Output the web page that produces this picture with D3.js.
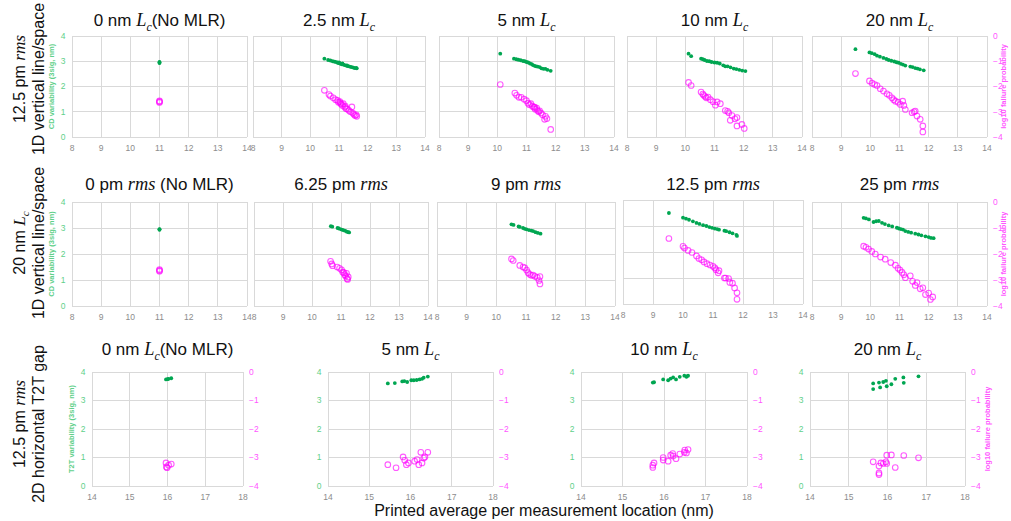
<!DOCTYPE html>
<html>
<head>
<meta charset="utf-8">
<script src="https://cdn.jsdelivr.net/npm/d3@7"></script>
<style>
  html, body { margin: 0; padding: 0; background: #fff; }
  svg { display: block; }
</style>
</head>
<body>
<svg id="chart" width="1011" height="521"></svg>
<script>
// ---- Data: [printed average (nm), variability (3sig, nm)] and [printed average (nm), log10 failure probability]
const r1p1Var = [[11.00, 2.97], [11.00, 2.93], [11.00, 2.95]];
const r1p1Fail = [[11.00, -2.57], [11.00, -2.63], [11.00, -2.60]];

const r1p2Var = [[10.49, 3.10], [10.62, 3.05], [10.70, 3.03], [10.78, 3.00], [10.85, 2.98], [10.92, 2.96], [10.97, 2.93], [11.02, 2.92], [11.06, 2.90], [11.10, 2.88], [11.15, 2.87], [11.20, 2.85], [11.25, 2.83], [11.30, 2.81], [11.35, 2.80], [11.40, 2.78], [11.45, 2.77], [11.50, 2.75], [11.55, 2.73], [11.60, 2.74], [11.62, 2.72], [11.00, 2.95], [11.12, 2.91], [11.28, 2.84]];
const r1p2Fail = [[10.49, -2.15], [10.65, -2.32], [10.70, -2.38], [10.80, -2.45], [10.88, -2.52], [10.95, -2.55], [10.98, -2.62], [11.03, -2.60], [11.08, -2.70], [11.12, -2.75], [11.15, -2.68], [11.20, -2.82], [11.25, -2.88], [11.30, -2.90], [11.35, -2.95], [11.40, -3.00], [11.45, -2.81], [11.48, -3.05], [11.52, -3.10], [11.56, -3.15], [11.60, -3.12], [11.62, -3.18], [11.05, -2.66], [11.22, -2.78]];

const r1p3Var = [[10.10, 3.30], [10.57, 3.10], [10.65, 3.08], [10.72, 3.06], [10.80, 3.04], [10.88, 3.01], [10.94, 3.00], [11.00, 2.97], [11.06, 2.95], [11.12, 2.91], [11.18, 2.89], [11.22, 2.85], [11.28, 2.82], [11.33, 2.80], [11.38, 2.79], [11.45, 2.77], [11.51, 2.72], [11.58, 2.70], [11.65, 2.70], [11.72, 2.66], [11.83, 2.62]];
const r1p3Fail = [[10.10, -1.92], [10.60, -2.26], [10.66, -2.35], [10.74, -2.43], [10.82, -2.43], [10.92, -2.50], [11.00, -2.56], [11.05, -2.66], [11.10, -2.72], [11.15, -2.68], [11.20, -2.78], [11.25, -2.82], [11.28, -2.82], [11.30, -2.90], [11.35, -2.86], [11.38, -2.95], [11.42, -3.00], [11.45, -2.96], [11.50, -3.05], [11.55, -3.12], [11.62, -3.30], [11.65, -3.18], [11.70, -3.27], [11.83, -3.70]];

const r1p4Var = [[10.11, 3.30], [10.20, 3.20], [10.54, 3.10], [10.60, 3.08], [10.66, 3.05], [10.74, 3.01], [10.82, 3.00], [10.90, 2.97], [11.00, 2.95], [11.09, 2.94], [11.18, 2.91], [11.30, 2.84], [11.37, 2.80], [11.45, 2.80], [11.55, 2.76], [11.66, 2.71], [11.75, 2.69], [11.85, 2.66], [11.95, 2.63], [12.06, 2.61]];
const r1p4Fail = [[10.11, -1.84], [10.20, -1.96], [10.54, -2.22], [10.60, -2.30], [10.63, -2.35], [10.68, -2.40], [10.72, -2.45], [10.78, -2.42], [10.86, -2.52], [10.95, -2.60], [11.03, -2.74], [11.09, -2.61], [11.20, -2.68], [11.37, -2.95], [11.45, -2.98], [11.49, -3.04], [11.54, -3.34], [11.60, -3.15], [11.70, -3.28], [11.77, -3.23], [11.77, -3.56], [11.94, -3.50], [12.02, -3.66]];

const r1p5Var = [[9.49, 3.48], [9.97, 3.35], [10.05, 3.32], [10.15, 3.28], [10.23, 3.22], [10.33, 3.18], [10.45, 3.13], [10.55, 3.09], [10.63, 3.05], [10.72, 3.02], [10.82, 2.99], [10.90, 2.96], [10.97, 2.94], [11.05, 2.90], [11.12, 2.87], [11.20, 2.83], [11.37, 2.79], [11.45, 2.77], [11.54, 2.73], [11.62, 2.71], [11.70, 2.68], [11.83, 2.64]];
const r1p5Fail = [[9.49, -1.49], [9.97, -1.78], [10.06, -1.87], [10.15, -1.92], [10.23, -1.96], [10.34, -2.09], [10.45, -2.18], [10.57, -2.29], [10.65, -2.35], [10.74, -2.45], [10.80, -2.52], [10.86, -2.58], [10.95, -2.62], [11.03, -2.71], [11.11, -2.58], [11.15, -2.75], [11.20, -2.91], [11.43, -3.04], [11.50, -3.00], [11.54, -2.97], [11.60, -3.17], [11.71, -3.30], [11.80, -3.56], [11.80, -3.80]];

const r2p1Var = [[11.00, 2.96], [11.00, 2.93], [11.00, 2.95]];
const r2p1Fail = [[11.00, -2.60], [11.00, -2.66], [11.00, -2.63]];

const r2p2Var = [[10.65, 3.07], [10.70, 3.05], [10.88, 3.00], [10.93, 2.98], [11.00, 2.95], [11.05, 2.93], [11.10, 2.91], [11.15, 2.89], [11.20, 2.86], [11.25, 2.84], [11.28, 2.83]];
const r2p2Fail = [[10.64, -2.28], [10.68, -2.38], [10.71, -2.45], [10.87, -2.50], [10.95, -2.55], [11.02, -2.61], [11.06, -2.70], [11.10, -2.72], [11.13, -2.80], [11.16, -2.85], [11.19, -2.74], [11.21, -2.95], [11.25, -2.88], [11.23, -2.98]];

const r2p3Var = [[10.51, 3.14], [10.58, 3.12], [10.75, 3.06], [10.79, 3.04], [10.90, 3.00], [10.96, 2.97], [11.02, 2.95], [11.10, 2.92], [11.18, 2.90], [11.24, 2.88], [11.32, 2.84], [11.40, 2.81], [11.49, 2.78]];
const r2p3Fail = [[10.51, -2.19], [10.57, -2.25], [10.79, -2.44], [10.90, -2.50], [10.96, -2.53], [11.02, -2.62], [11.07, -2.72], [11.12, -2.78], [11.18, -2.82], [11.24, -2.81], [11.30, -2.86], [11.38, -2.90], [11.47, -2.87], [11.44, -3.02], [11.47, -3.15]];

const r2p4Var = [[9.53, 3.50], [10.00, 3.32], [10.10, 3.28], [10.20, 3.24], [10.33, 3.18], [10.45, 3.12], [10.55, 3.08], [10.67, 3.03], [10.78, 3.00], [10.88, 2.96], [10.97, 2.93], [11.06, 2.90], [11.14, 2.88], [11.20, 2.86], [11.38, 2.82], [11.44, 2.80], [11.55, 2.76], [11.65, 2.72], [11.78, 2.66], [11.80, 2.62]];
const r2p4Fail = [[9.53, -1.48], [10.00, -1.78], [10.05, -1.85], [10.17, -1.94], [10.30, -2.02], [10.45, -2.15], [10.53, -2.25], [10.62, -2.30], [10.70, -2.38], [10.80, -2.45], [10.90, -2.50], [11.00, -2.55], [11.06, -2.61], [11.10, -2.68], [11.17, -2.80], [11.20, -2.72], [11.38, -3.00], [11.42, -3.00], [11.52, -3.02], [11.56, -3.17], [11.65, -3.20], [11.72, -3.38], [11.80, -3.57], [11.80, -3.82]];

const r2p5Var = [[9.77, 3.39], [9.85, 3.37], [9.95, 3.33], [10.11, 3.23], [10.20, 3.26], [10.29, 3.27], [10.40, 3.20], [10.50, 3.15], [10.63, 3.10], [10.75, 3.06], [10.91, 3.01], [10.98, 2.98], [11.05, 2.96], [11.12, 2.94], [11.20, 2.88], [11.30, 2.85], [11.40, 2.82], [11.54, 2.78], [11.65, 2.75], [11.75, 2.72], [11.89, 2.68], [12.00, 2.65], [12.08, 2.62], [12.17, 2.61]];
const r2p5Fail = [[9.77, -1.70], [9.85, -1.74], [9.94, -1.81], [10.05, -1.90], [10.17, -2.00], [10.35, -2.12], [10.51, -2.20], [10.70, -2.33], [10.86, -2.43], [10.95, -2.55], [11.02, -2.62], [11.09, -2.71], [11.15, -2.80], [11.20, -2.91], [11.37, -2.84], [11.45, -3.05], [11.54, -3.21], [11.60, -3.10], [11.71, -3.34], [11.80, -3.30], [11.89, -3.56], [12.00, -3.50], [12.06, -3.75], [12.14, -3.65]];

const r3p1Var = [[15.96, 3.74], [16.00, 3.75], [16.03, 3.76], [16.10, 3.78]];
const r3p1Fail = [[15.96, -3.19], [15.97, -3.33], [15.99, -3.36], [16.03, -3.27], [16.10, -3.23]];

const r3p2Var = [[15.45, 3.60], [15.62, 3.61], [15.80, 3.67], [15.85, 3.68], [15.92, 3.65], [16.02, 3.71], [16.08, 3.71], [16.15, 3.72], [16.22, 3.74], [16.28, 3.76], [16.32, 3.80], [16.42, 3.84]];
const r3p2Fail = [[15.45, -3.25], [15.65, -3.36], [15.82, -2.98], [15.86, -3.10], [15.90, -3.25], [15.95, -3.19], [16.10, -3.13], [16.16, -3.07], [16.20, -3.25], [16.25, -2.82], [16.28, -3.19], [16.32, -3.02], [16.35, -2.98], [16.42, -2.82]];

const r3p3Var = [[15.73, 3.63], [15.76, 3.64], [15.98, 3.74], [16.10, 3.71], [16.16, 3.77], [16.22, 3.81], [16.29, 3.74], [16.38, 3.83], [16.49, 3.87], [16.54, 3.83], [16.58, 3.87], [16.55, 3.85]];
const r3p3Fail = [[15.73, -3.35], [15.73, -3.27], [15.76, -3.19], [15.98, -3.00], [15.98, -3.09], [16.10, -3.13], [16.16, -2.92], [16.21, -2.86], [16.22, -2.95], [16.29, -3.04], [16.38, -2.88], [16.49, -2.82], [16.50, -2.74], [16.54, -2.84], [16.58, -2.72]];

const r3p4Var = [[15.63, 3.60], [15.63, 3.40], [15.78, 3.63], [15.81, 3.46], [15.89, 3.65], [15.96, 3.69], [15.98, 3.50], [16.10, 3.57], [16.20, 3.76], [16.41, 3.81], [16.42, 3.62], [16.80, 3.85]];
const r3p4Fail = [[15.63, -3.15], [15.78, -3.30], [15.78, -3.54], [15.78, -3.60], [15.83, -3.19], [15.89, -3.21], [15.96, -3.15], [15.98, -2.92], [15.98, -3.21], [16.10, -2.91], [16.20, -3.35], [16.42, -2.93], [16.80, -3.01]];

// ---- Tick values and labels
const xTicksLS = [8, 9, 10, 11, 12, 13, 14];
const xTicksT2T = [14, 15, 16, 17, 18];
const varTicks = [0, 1, 2, 3, 4];
const failTicks = [0, -1, -2, -3, -4];

// ---- Titles (segments: plain, italic serif symbol, subscript)
const titlesRow1 = [
  [["0 nm "], ["L", "i"], ["c", "s"], ["(No MLR)"]],
  [["2.5 nm "], ["L", "i"], ["c", "s"]],
  [["5 nm "], ["L", "i"], ["c", "s"]],
  [["10 nm "], ["L", "i"], ["c", "s"]],
  [["20 nm "], ["L", "i"], ["c", "s"]]
];
const titlesRow2 = [
  [["0 pm "], ["rms", "i"], [" (No MLR)"]],
  [["6.25 pm "], ["rms", "i"]],
  [["9 pm "], ["rms", "i"]],
  [["12.5 pm "], ["rms", "i"]],
  [["25 pm "], ["rms", "i"]]
];
const titlesRow3 = [
  [["0 nm "], ["L", "i"], ["c", "s"], ["(No MLR)"]],
  [["5 nm "], ["L", "i"], ["c", "s"]],
  [["10 nm "], ["L", "i"], ["c", "s"]],
  [["20 nm "], ["L", "i"], ["c", "s"]]
];
const rowLabels = [
  [[["12.5 pm "], ["rms", "i"]], [["1D vertical line/space"]]],
  [[["20 nm "], ["L", "i"], ["c", "s"]], [["1D vertical line/space"]]],
  [[["12.5 pm "], ["rms", "i"]], [["2D horizontal T2T gap"]]]
];
const xAxisTitle = "Printed average per measurement location (nm)";
const cdTitle = "CD variability (3sig, nm)";
const t2tTitle = "T2T variability (3sig, nm)";
const failTitle = "log10 failure probability";

// ---- Styling
const GREEN = "#00a651";
const GREEN_LABEL = "#5fd08a";
const MAGENTA = "#ff00ff";
const MAGENTA_LABEL = "#ff55ff";
const GRID = "#d9d9d9";
const TICK_TEXT = "#8c8c8c";
const SANS = "'Liberation Sans', Arial, sans-serif";
const SERIF = "'Liberation Serif', 'Times New Roman', serif";

// ---- Panel layout: plot rectangles and which axes each one shows
const panels = [
  // row 1
  { x0: 72, x1: 247, y0: 36, y1: 137, xd: [8, 14], xt: xTicksLS, v: r1p1Var, f: r1p1Fail, title: titlesRow1[0], left: true, leftTitle: cdTitle },
  { x0: 253, x1: 425, y0: 36, y1: 137, xd: [8, 14], xt: xTicksLS, v: r1p2Var, f: r1p2Fail, title: titlesRow1[1] },
  { x0: 439, x1: 614, y0: 36, y1: 137, xd: [8, 14], xt: xTicksLS, v: r1p3Var, f: r1p3Fail, title: titlesRow1[2] },
  { x0: 627, x1: 802, y0: 36, y1: 137, xd: [8, 14], xt: xTicksLS, v: r1p4Var, f: r1p4Fail, title: titlesRow1[3] },
  { x0: 812, x1: 987, y0: 36, y1: 137, xd: [8, 14], xt: xTicksLS, v: r1p5Var, f: r1p5Fail, title: titlesRow1[4], right: true, rightTitle: failTitle, rtx: 1006 },
  // row 2
  { x0: 72, x1: 247, y0: 202, y1: 306, xd: [8, 14], xt: xTicksLS, v: r2p1Var, f: r2p1Fail, title: titlesRow2[0], left: true, leftTitle: cdTitle },
  { x0: 254, x1: 428, y0: 202, y1: 306, xd: [8, 14], xt: xTicksLS, v: r2p2Var, f: r2p2Fail, title: titlesRow2[1] },
  { x0: 437, x1: 615, y0: 202, y1: 306, xd: [8, 14], xt: xTicksLS, v: r2p3Var, f: r2p3Fail, title: titlesRow2[2] },
  { x0: 623, x1: 803, y0: 200, y1: 304, xd: [8, 14], xt: xTicksLS, v: r2p4Var, f: r2p4Fail, title: titlesRow2[3] },
  { x0: 812, x1: 987, y0: 202, y1: 306, xd: [8, 14], xt: xTicksLS, v: r2p5Var, f: r2p5Fail, title: titlesRow2[4], right: true, rightTitle: failTitle, rtx: 1006 },
  // row 3
  { x0: 92, x1: 243, y0: 372, y1: 486, xd: [14, 18], xt: xTicksT2T, v: r3p1Var, f: r3p1Fail, title: titlesRow3[0], left: true, leftTitle: t2tTitle, right: true },
  { x0: 328, x1: 493, y0: 372, y1: 486, xd: [14, 18], xt: xTicksT2T, v: r3p2Var, f: r3p2Fail, title: titlesRow3[1], left: true, right: true },
  { x0: 581, x1: 747, y0: 372, y1: 486, xd: [14, 18], xt: xTicksT2T, v: r3p3Var, f: r3p3Fail, title: titlesRow3[2], left: true, right: true },
  { x0: 810, x1: 965, y0: 372, y1: 486, xd: [14, 18], xt: xTicksT2T, v: r3p4Var, f: r3p4Fail, title: titlesRow3[3], left: true, right: true, rightTitle: failTitle, rtx: 990 }
];
const titleY = [26, 190, 355];
const rowLabelPos = [{ cy: 79 }, { cy: 243 }, { cy: 424 }];

const svg = d3.select("#chart");

// Writes a mixed-style label (plain sans, italic serif symbols, subscripts) into a text node
function richText(sel, segs, size) {
  segs.forEach((s, i) => {
    const [t, kind] = s;
    const prevSub = i > 0 && segs[i - 1][1] === "s";
    const ts = sel.append("tspan").text(t);
    if (kind === "i") {
      ts.attr("font-family", SERIF).attr("font-style", "italic").attr("font-size", size * 1.08);
    } else if (kind === "s") {
      ts.attr("font-family", SERIF).attr("font-style", "italic").attr("font-size", size * 0.7).attr("dy", size * 0.28);
    } else {
      ts.attr("font-family", SANS).attr("font-size", size);
    }
    if (prevSub) ts.attr("dy", -size * 0.28);
  });
}

panels.forEach((p, idx) => {
  const x = d3.scaleLinear().domain(p.xd).range([p.x0, p.x1]);
  const yV = d3.scaleLinear().domain([0, 4]).range([p.y1, p.y0]);
  const yF = d3.scaleLinear().domain([-4, 0]).range([p.y1, p.y0]);
  const g = svg.append("g");

  // gridlines (outer ones form the frame)
  g.append("g").selectAll("line").data(p.xt).join("line")
    .attr("x1", d => x(d)).attr("x2", d => x(d))
    .attr("y1", p.y0).attr("y2", p.y1)
    .attr("stroke", GRID).attr("stroke-width", 1).attr("shape-rendering", "crispEdges");
  g.append("g").selectAll("line").data(varTicks).join("line")
    .attr("x1", p.x0).attr("x2", p.x1)
    .attr("y1", d => yV(d)).attr("y2", d => yV(d))
    .attr("stroke", GRID).attr("stroke-width", 1).attr("shape-rendering", "crispEdges");

  // x tick labels
  g.append("g").selectAll("text").data(p.xt).join("text")
    .attr("x", d => x(d)).attr("y", p.y1 + 11).attr("dy", "0.35em")
    .attr("text-anchor", "middle").attr("font-family", SANS).attr("font-size", 8.5)
    .attr("fill", TICK_TEXT).text(d => d);

  // left (variability) labels
  if (p.left) {
    g.append("g").selectAll("text").data(varTicks).join("text")
      .attr("x", p.x0 - 9).attr("y", d => yV(d)).attr("dy", "0.35em")
      .attr("text-anchor", "middle").attr("font-family", SANS).attr("font-size", 8.5)
      .attr("fill", GREEN_LABEL).text(d => d);
  }
  if (p.leftTitle) {
    const cy = (p.y0 + p.y1) / 2;
    const tx = p.x0 - 18;
    g.append("text").attr("transform", `translate(${tx},${cy}) rotate(-90)`)
      .attr("text-anchor", "middle").attr("font-family", SANS).attr("font-size", 7.5)
      .attr("font-weight", "bold").attr("fill", GREEN_LABEL).text(p.leftTitle);
  }
  // right (log10 failure probability) labels
  if (p.right) {
    g.append("g").selectAll("text").data(failTicks).join("text")
      .attr("x", p.x1 + 6).attr("y", d => yF(d)).attr("dy", "0.35em")
      .attr("text-anchor", "start").attr("font-family", SANS).attr("font-size", 8.5)
      .attr("fill", MAGENTA_LABEL).text(d => d === 0 ? "0" : "\u2212" + Math.abs(d));
  }
  if (p.rightTitle) {
    const cy = (p.y0 + p.y1) / 2;
    g.append("text").attr("transform", `translate(${p.rtx},${cy}) rotate(-90)`)
      .attr("text-anchor", "middle").attr("font-family", SANS).attr("font-size", 7.5)
      .attr("font-weight", "bold").attr("fill", MAGENTA_LABEL).text(p.rightTitle);
  }

  // failure probability: open magenta circles
  g.append("g").selectAll("circle").data(p.f).join("circle")
    .attr("cx", d => x(d[0])).attr("cy", d => yF(d[1])).attr("r", 2.8)
    .attr("fill", "none").attr("stroke", MAGENTA).attr("stroke-opacity", 0.65).attr("stroke-width", 1.1);
  // variability: filled green dots
  g.append("g").selectAll("circle").data(p.v).join("circle")
    .attr("cx", d => x(d[0])).attr("cy", d => yV(d[1])).attr("r", 1.9)
    .attr("fill", GREEN);

  // panel title
  const row = idx < 5 ? 0 : idx < 10 ? 1 : 2;
  const tt = g.append("text").attr("x", (p.x0 + p.x1) / 2).attr("y", titleY[row])
    .attr("text-anchor", "middle").attr("fill", "#111");
  richText(tt, p.title, 17);
});

// row labels on the far left
rowLabels.forEach((lines, i) => {
  const cy = rowLabelPos[i].cy;
  [19, 38].forEach((lx, j) => {
    const t = svg.append("text").attr("transform", `translate(${lx},${cy}) rotate(-90)`)
      .attr("text-anchor", "middle").attr("fill", "#111").attr("dy", "0.35em");
    richText(t, lines[j], 16);
  });
});

// shared x-axis title
svg.append("text").attr("x", 544).attr("y", 516).attr("text-anchor", "middle")
  .attr("font-family", SANS).attr("font-size", 16).attr("fill", "#111").text(xAxisTitle);
</script>
</body>
</html>
